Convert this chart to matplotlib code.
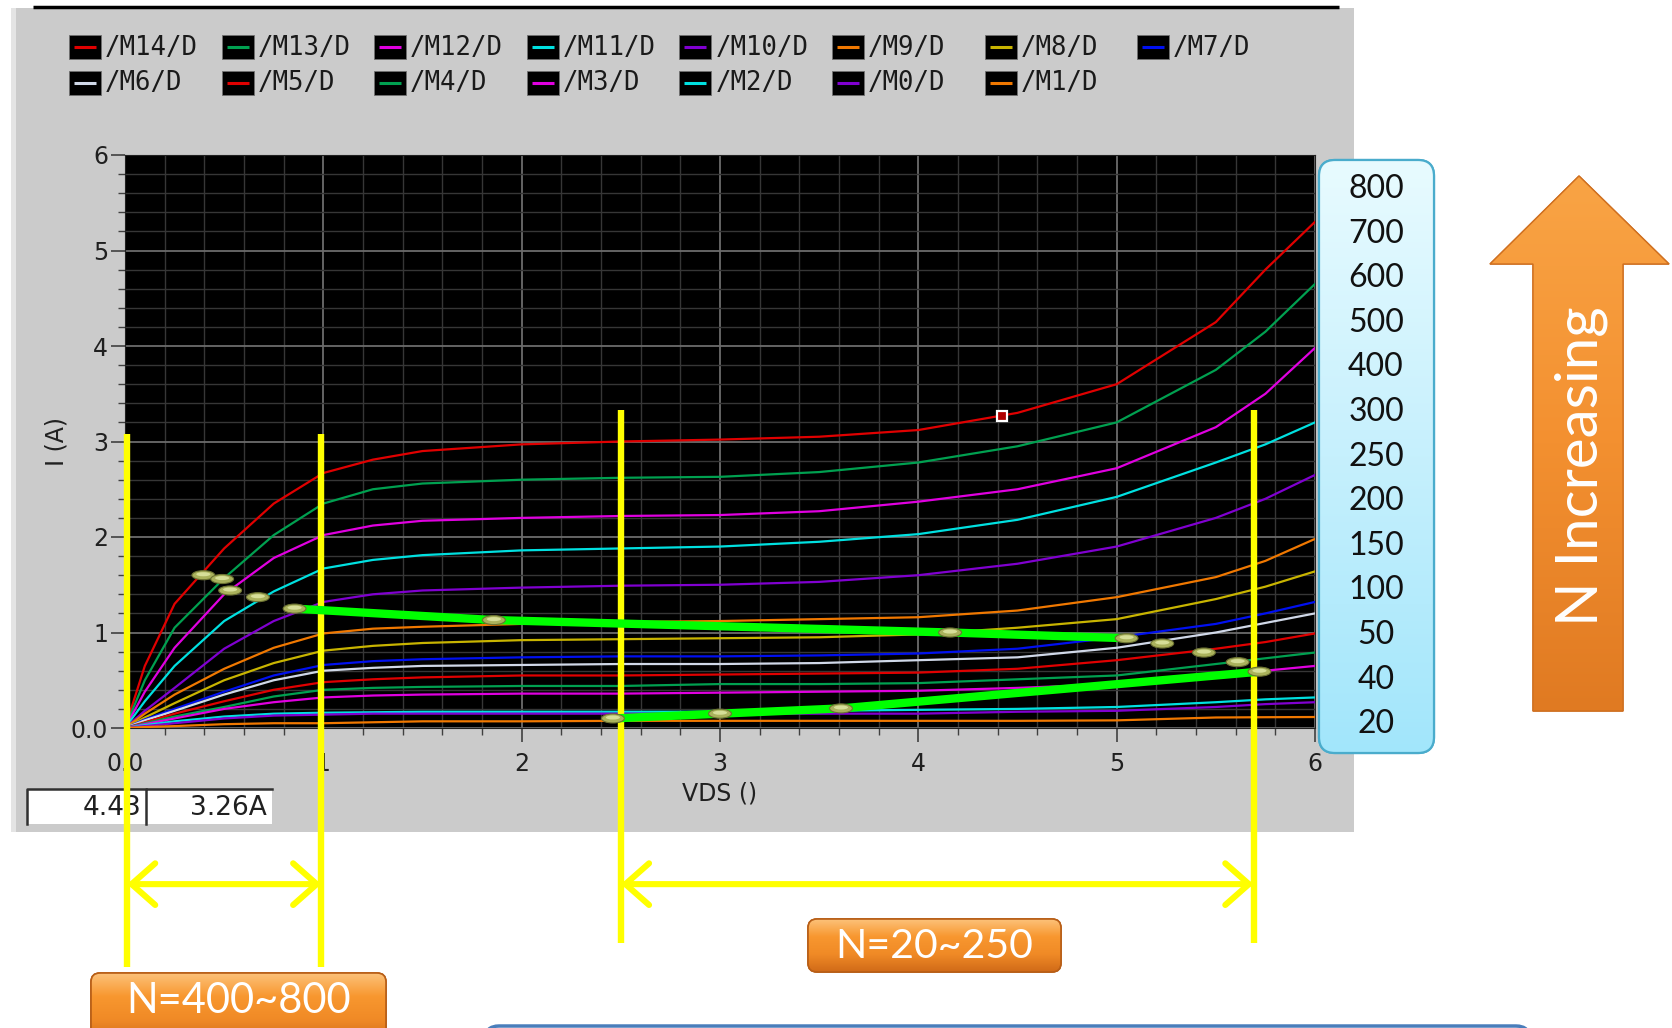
import numpy as np
import matplotlib
matplotlib.use("Agg")
import matplotlib.pyplot as plt
from matplotlib.patches import Rectangle, FancyBboxPatch, Polygon, Ellipse
from matplotlib.colors import LinearSegmentedColormap

# ---------------- data ----------------
vds = [0, 0.1, 0.25, 0.5, 0.75, 1.0, 1.25, 1.5, 2.0, 2.5, 3.0, 3.5, 4.0, 4.5, 5.0, 5.5, 5.75, 6.0]
i_m14 = [0, 0.65, 1.3, 1.88, 2.35, 2.67, 2.81, 2.9, 2.97, 3.0, 3.02, 3.05, 3.12, 3.3, 3.6, 4.25, 4.8, 5.3]
i_m13 = [0, 0.5, 1.05, 1.57, 2.02, 2.35, 2.5, 2.56, 2.6, 2.62, 2.63, 2.68, 2.78, 2.95, 3.2, 3.75, 4.15, 4.65]
i_m12 = [0, 0.38, 0.84, 1.4, 1.78, 2.02, 2.12, 2.17, 2.2, 2.22, 2.23, 2.27, 2.37, 2.5, 2.72, 3.15, 3.5, 3.98]
i_m11 = [0, 0.28, 0.65, 1.12, 1.43, 1.67, 1.76, 1.81, 1.86, 1.88, 1.9, 1.95, 2.03, 2.18, 2.42, 2.78, 2.97, 3.2]
i_m10 = [0, 0.18, 0.42, 0.83, 1.12, 1.32, 1.4, 1.44, 1.47, 1.49, 1.5, 1.53, 1.6, 1.72, 1.9, 2.2, 2.4, 2.65]
i_m9 = [0, 0.15, 0.35, 0.62, 0.84, 0.99, 1.04, 1.06, 1.09, 1.11, 1.12, 1.14, 1.16, 1.23, 1.37, 1.58, 1.75, 1.98]
i_m8 = [0, 0.11, 0.26, 0.5, 0.68, 0.81, 0.86, 0.89, 0.92, 0.93, 0.94, 0.95, 0.98, 1.05, 1.14, 1.35, 1.48, 1.64]
i_m7 = [0, 0.09, 0.2, 0.38, 0.55, 0.66, 0.7, 0.72, 0.74, 0.75, 0.75, 0.76, 0.78, 0.83, 0.95, 1.09, 1.2, 1.32]
i_m6 = [0, 0.08, 0.18, 0.35, 0.5, 0.6, 0.63, 0.65, 0.66, 0.67, 0.67, 0.68, 0.71, 0.74, 0.84, 1.0, 1.1, 1.2]
i_m5 = [0, 0.06, 0.15, 0.28, 0.4, 0.48, 0.51, 0.53, 0.55, 0.55, 0.56, 0.57, 0.58, 0.62, 0.71, 0.83, 0.9, 0.99]
i_m4 = [0, 0.05, 0.12, 0.22, 0.33, 0.4, 0.42, 0.43, 0.44, 0.44, 0.46, 0.46, 0.47, 0.51, 0.55, 0.67, 0.73, 0.79]
i_m3 = [0, 0.04, 0.1, 0.2, 0.27, 0.32, 0.34, 0.35, 0.36, 0.36, 0.37, 0.38, 0.39, 0.42, 0.46, 0.55, 0.6, 0.65]
i_m2 = [0, 0.03, 0.07, 0.12, 0.15, 0.16, 0.165, 0.17, 0.17, 0.17, 0.17, 0.18, 0.19, 0.2, 0.22, 0.27, 0.3, 0.32]
i_m0 = [0, 0.02, 0.05, 0.1, 0.13, 0.14, 0.15, 0.15, 0.15, 0.15, 0.15, 0.15, 0.15, 0.17, 0.18, 0.22, 0.25, 0.27]
i_m1 = [0, 0.01, 0.02, 0.04, 0.05, 0.05, 0.06, 0.07, 0.07, 0.075, 0.075, 0.075, 0.075, 0.075, 0.08, 0.11, 0.113, 0.115]

series_names = ['/M14/D', '/M13/D', '/M12/D', '/M11/D', '/M10/D', '/M9/D', '/M8/D', '/M7/D',
                '/M6/D', '/M5/D', '/M4/D', '/M3/D', '/M2/D', '/M0/D', '/M1/D']
series_values = [i_m14, i_m13, i_m12, i_m11, i_m10, i_m9, i_m8, i_m7,
                 i_m6, i_m5, i_m4, i_m3, i_m2, i_m0, i_m1]
series_colors = ['#e00000', '#00a050', '#e000e0', '#00e0e0', '#8000d0', '#f07800', '#c8b400', '#0010f0',
                 '#d0d8e8', '#e00000', '#00a050', '#e000e0', '#00e0e0', '#8000d0', '#f07800']

x_ticks = [0, 1, 2, 3, 4, 5, 6]
x_tick_labels = ['0.0', '1', '2', '3', '4', '5', '6']
y_ticks = [0, 1, 2, 3, 4, 5, 6]
y_tick_labels = ['0.0', '1', '2', '3', '4', '5', '6']

marker_v = [0.395, 0.49, 0.53, 0.67, 0.855, 1.86, 4.16, 5.05, 5.23, 5.44, 5.61, 5.72, 2.46, 3.0, 3.61]
marker_i = [1.60, 1.56, 1.44, 1.37, 1.25, 1.13, 1.0, 0.94, 0.885, 0.79, 0.69, 0.59, 0.10, 0.15, 0.205]
green_upper_v = [0.855, 1.86, 4.16, 5.05]
green_upper_i = [1.25, 1.13, 1.0, 0.94]
green_lower_v = [2.46, 3.0, 3.61, 5.72]
green_lower_i = [0.10, 0.15, 0.205, 0.59]
cursor_v = [4.42]
cursor_i = [3.27]
readout_texts = ['4.43', '3.26A']

bracket_v = [0.01, 0.99, 2.5, 5.69]
bracket_top = [3.08, 3.08, 3.33, 3.33]
bracket_bottom = [-2.5, -2.5, -2.25, -2.25]
span_arrows = [(0.01, 0.99), (2.5, 5.69)]
span_arrow_i = -1.635
span_labels = ['N=400~800', 'N=20~250']

n_labels = ['800', '700', '600', '500', '400', '300', '250', '200', '150', '100', '50', '40', '20']
arrow_label = 'N Increasing'

# ---------------- figure ----------------
W, H = 1672, 1028
fig = plt.figure(figsize=(W / 100, H / 100), dpi=100)
fig.patch.set_facecolor('white')

bg = fig.add_axes([0, 0, 1, 1], zorder=0)
bg.set_xlim(0, W); bg.set_ylim(H, 0); bg.axis('off')

front = fig.add_axes([0, 0, 1, 1], zorder=3)
front.patch.set_alpha(0)


def gradient_patch(axx, patch, colors, z):
    patch.set_zorder(z)
    axx.add_patch(patch)
    bb = patch.get_path().get_extents(patch.get_patch_transform())
    cmap = LinearSegmentedColormap.from_list('g', colors)
    grad = np.linspace(0, 1, 256).reshape(-1, 1)
    im = axx.imshow(grad, cmap=cmap, extent=(bb.x0, bb.x1, bb.y1, bb.y0),
                    aspect='auto', origin='upper', zorder=z + 0.1, interpolation='bilinear')
    im.set_clip_path(patch)
    return im


# grey panel
bg.add_patch(Rectangle((11, 8), 1343, 824, facecolor='#cbcbcb', edgecolor='none', zorder=1))
bg.add_patch(Rectangle((11, 8), 5, 824, facecolor='#e4e4e4', edgecolor='none', zorder=1.1))
bg.plot([33, 1339], [7, 7], color='black', lw=2.5, zorder=2, solid_capstyle='butt')

# legend
for k, (name, col) in enumerate(zip(series_names, series_colors)):
    row, c = divmod(k, 8)
    x0 = 69 + c * 152.6
    yc = 47 + row * 35.5
    bg.add_patch(Rectangle((x0, yc - 12), 32, 24, facecolor='black', edgecolor='#707070', lw=0.6, zorder=2))
    bg.plot([x0 + 5, x0 + 27], [yc, yc], color=col, lw=2.2, zorder=3, solid_capstyle='butt')
    bg.text(x0 + 36, yc + 1, name, fontsize=18.5, family='DejaVu Sans Mono', color='#1a1a1a',
            ha='left', va='center', zorder=3)

# readout boxes
for (x0, x1), txt in zip([(27, 146), (146, 272)], readout_texts):
    bg.add_patch(Rectangle((x0, 789), x1 - x0, 35, facecolor='white', edgecolor='none', zorder=2))
    bg.plot([x0, x0, x1], [824, 789, 789], color='#303030', lw=1.8, zorder=3)
    bg.text(x1 - 5, 808, txt, fontsize=19, family='DejaVu Sans', color='#202020',
            ha='right', va='center', zorder=3)

# bottom blue box (top edge only visible)
bg.add_patch(FancyBboxPatch((485, 1026), 1045, 80, boxstyle='round,pad=0,rounding_size=14',
                            facecolor='white', edgecolor='#4a7ebb', lw=2.5, zorder=2))

# ---------------- data axes ----------------
L, R, T, B = 125, 1315, 155, 728
ax = fig.add_axes([L / W, 1 - B / H, (R - L) / W, (B - T) / H], zorder=1)
ax.set_facecolor('black')
ax.set_xlim(0, 6); ax.set_ylim(0, 6)
ax.set_xticks(x_ticks); ax.set_xticklabels(x_tick_labels)
ax.set_yticks(y_ticks); ax.set_yticklabels(y_tick_labels)
ax.set_xticks(np.arange(0, 6.01, 0.2), minor=True)
ax.set_yticks(np.arange(0, 6.01, 0.2), minor=True)
ax.grid(which='major', color='#6c6c6c', lw=1.3)
ax.grid(which='minor', color='#363636', lw=1.0)
ax.tick_params(which='major', direction='out', length=10, width=1.2, color='#404040',
               labelsize=17, labelcolor='#202020')
ax.tick_params(which='minor', direction='out', length=5, width=1.0, color='#404040')
ax.tick_params(axis='y', pad=2)
ax.tick_params(axis='x', pad=7)
for sp in ax.spines.values():
    sp.set_color('#202020')
ax.set_xlabel('VDS ()', fontsize=17, color='#202020', labelpad=4)
ax.set_ylabel('I (A)', fontsize=17, color='#202020', labelpad=2)

for vals, col in zip(series_values, series_colors):
    ax.plot(vds, vals, color=col, lw=1.6, zorder=3)

# cursor
ax.plot(cursor_v, cursor_i, marker='s', ms=7, mfc='#b00000', mec='white', mew=1.6, ls='none', zorder=6)

# yellow brackets
for v, t, b in zip(bracket_v, bracket_top, bracket_bottom):
    ax.plot([v, v], [b, t], color='#ffff00', lw=4.6, zorder=10, clip_on=False, solid_capstyle='butt')
for (a, b) in span_arrows:
    ax.annotate('', xy=(b, span_arrow_i), xytext=(a, span_arrow_i),
                arrowprops=dict(arrowstyle='<->,head_length=0.85,head_width=0.75', lw=4.4,
                                color='#ffff00', shrinkA=0, shrinkB=0, mutation_scale=20),
                annotation_clip=False, zorder=10)

# green lines
ax.plot(green_upper_v, green_upper_i, color='#00ff00', lw=6.0, zorder=11, solid_capstyle='butt')
ax.plot(green_lower_v, green_lower_i, color='#00ff00', lw=6.0, zorder=11, solid_capstyle='butt')

# markers
ew, eh = 0.115, 0.095
for v, i in zip(marker_v, marker_i):
    ax.add_patch(Ellipse((v, i), ew, eh, facecolor='#aab25c', edgecolor='#6c7232', lw=0.8,
                         zorder=12, clip_on=False))
    ax.add_patch(Ellipse((v, i + 0.01), ew * 0.62, eh * 0.45, facecolor='#d6de98', edgecolor='none',
                         zorder=12.5, clip_on=False))

# ---------------- front annotations ----------------
# right N box
box = FancyBboxPatch((1319, 160), 115, 593, boxstyle='round,pad=0,rounding_size=16',
                     facecolor='none', edgecolor='#4aaccc', lw=1.6)
gradient_patch(front, box, ['#e8fbff', '#c6f0fd', '#a2e6fb'], 2)
box2 = FancyBboxPatch((1319, 160), 115, 593, boxstyle='round,pad=0,rounding_size=16',
                      facecolor='none', edgecolor='#4aaccc', lw=1.6, zorder=3)
front.add_patch(box2)
for k, lab in enumerate(n_labels):
    front.text(1376, 189 + k * 44.6, lab, fontsize=23, family='Lato', color='#111111',
               ha='center', va='center', zorder=4)

# orange arrow
arrow_pts = [(1579, 176), (1669, 264), (1623, 264), (1623, 711), (1533, 711), (1533, 264), (1490, 264)]
arr = Polygon(arrow_pts, closed=True, facecolor='none', edgecolor='#c86a1c', lw=1.0)
gradient_patch(front, arr, ['#f9a445', '#f39030', '#e07a22'], 2)
front.add_patch(Polygon(arrow_pts, closed=True, facecolor='none', edgecolor='#d07020', lw=1.0, zorder=3))
front.text(1581, 466, arrow_label, rotation=90, fontsize=42, family='Lato', color='white',
           ha='center', va='center', zorder=4)

# orange buttons
for (x0, y0, w, h), lab, fs in zip([(91, 973, 295, 70), (808, 919, 253, 53)], span_labels, [30, 29.5]):
    btn = FancyBboxPatch((x0, y0), w, h, boxstyle='round,pad=0,rounding_size=9',
                         facecolor='none', edgecolor='#b85e16', lw=1.2)
    gradient_patch(front, btn, ['#fcc27a', '#f8972f', '#f08a26', '#d06a18'], 2)
    front.add_patch(FancyBboxPatch((x0, y0), w, h, boxstyle='round,pad=0,rounding_size=9',
                                   facecolor='none', edgecolor='#b85e16', lw=1.2, zorder=3))
    cy = y0 + 27 if h > 60 else y0 + h / 2
    front.text(x0 + w / 2, cy + 1, lab, fontsize=fs, family='Lato', color='white',
               ha='center', va='center', zorder=4)

front.set_xlim(0, W); front.set_ylim(H, 0); front.axis('off')
bg.set_xlim(0, W); bg.set_ylim(H, 0)

fig.savefig('out.png', dpi=100, facecolor='white')
